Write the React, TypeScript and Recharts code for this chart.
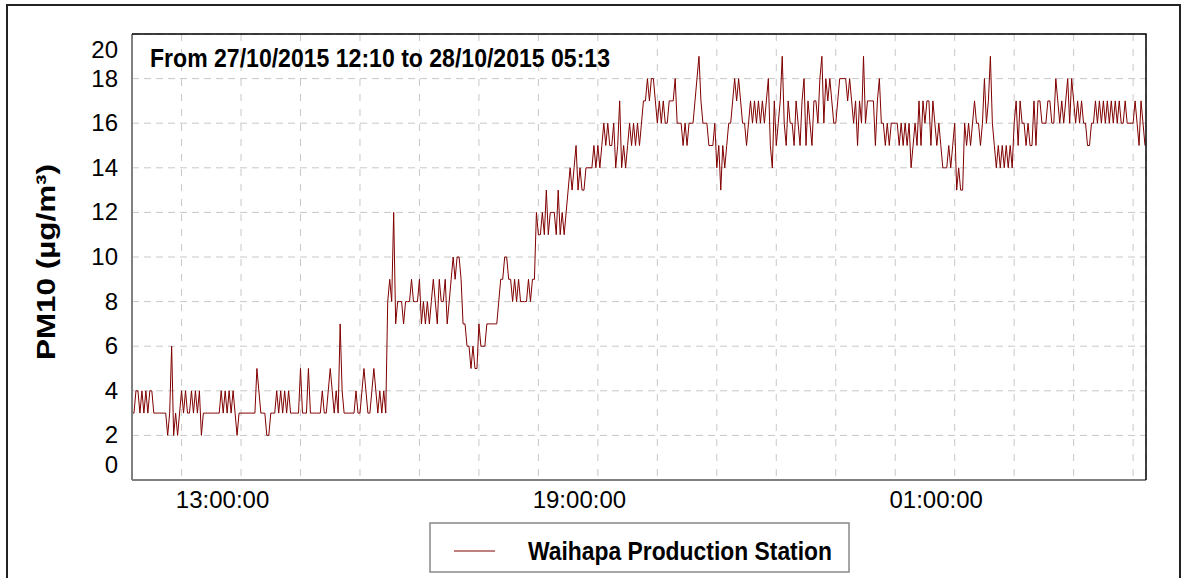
import { CartesianGrid, Line, LineChart, XAxis, YAxis } from "recharts";

const startLabel = "27/10/2015 12:10";
const endLabel = "28/10/2015 05:13";
const seriesName = "Waihapa Production Station";
const yAxisTitle = "PM10 (µg/m³)";

// one reading every 2 minutes, starting 27/10/2015 12:10
const sampleMinutes = 2;
const totalMinutes = 1023;

const pm10: number[] = [
	3, 3, 4, 4, 3, 4, 3, 4, 3, 4,
	4, 3, 3, 3, 3, 3, 3, 3, 2, 3,
	6, 2, 3, 2, 3, 4, 3, 4, 3, 3,
	4, 3, 4, 3, 4, 2, 3, 3, 3, 3,
	3, 3, 3, 3, 3, 4, 3, 4, 3, 4,
	3, 4, 3, 2, 3, 3, 3, 3, 3, 3,
	3, 3, 3, 5, 4, 3, 3, 3, 2, 2,
	3, 3, 3, 4, 3, 4, 3, 4, 3, 4,
	3, 3, 3, 3, 3, 5, 3, 3, 3, 5,
	3, 3, 3, 3, 3, 3, 4, 3, 3, 4,
	5, 4, 3, 4, 3, 7, 4, 3, 3, 3,
	3, 3, 3, 4, 3, 3, 4, 5, 4, 3,
	3, 4, 5, 4, 3, 4, 3, 4, 3, 8,
	9, 8, 12, 7, 8, 8, 8, 7, 8, 8,
	8, 9, 8, 8, 8, 9, 7, 8, 7, 8,
	7, 8, 9, 8, 7, 9, 8, 8, 9, 7,
	8, 9, 10, 9, 10, 10, 9, 7, 7, 6,
	6, 5, 6, 5, 5, 7, 6, 6, 6, 7,
	7, 7, 7, 7, 7, 8, 9, 9, 10, 10,
	9, 9, 8, 9, 8, 9, 8, 8, 8, 8,
	9, 8, 9, 9, 12, 11, 11, 12, 11, 13,
	11, 12, 12, 12, 11, 13, 11, 12, 11, 12,
	13, 14, 13, 14, 15, 13, 14, 13, 13, 14,
	14, 14, 14, 15, 14, 15, 14, 15, 16, 15,
	16, 15, 15, 16, 14, 15, 17, 14, 15, 14,
	15, 16, 15, 16, 15, 16, 15, 16, 17, 17,
	18, 17, 18, 18, 17, 16, 17, 16, 17, 16,
	16, 17, 17, 17, 18, 16, 16, 16, 15, 16,
	15, 16, 16, 16, 17, 18, 19, 17, 16, 16,
	16, 15, 15, 15, 16, 14, 15, 13, 15, 14,
	15, 16, 16, 17, 18, 17, 18, 17, 16, 16,
	15, 16, 17, 16, 17, 16, 17, 16, 17, 16,
	17, 18, 15, 14, 17, 15, 16, 17, 19, 16,
	15, 17, 16, 16, 15, 17, 16, 15, 17, 18,
	15, 17, 16, 15, 17, 17, 16, 18, 19, 16,
	18, 17, 18, 17, 16, 16, 17, 18, 18, 18,
	18, 17, 18, 17, 16, 17, 15, 17, 16, 19,
	16, 17, 17, 17, 17, 15, 17, 18, 16, 16,
	15, 16, 15, 16, 16, 16, 16, 15, 16, 15,
	16, 15, 16, 14, 15, 16, 15, 17, 15, 17,
	16, 17, 17, 15, 17, 16, 15, 16, 15, 14,
	14, 14, 15, 14, 15, 16, 13, 14, 13, 13,
	16, 15, 16, 15, 16, 17, 16, 16, 15, 16,
	18, 16, 17, 19, 16, 15, 14, 15, 14, 15,
	14, 15, 14, 15, 14, 16, 17, 15, 17, 16,
	16, 15, 16, 15, 15, 17, 15, 17, 17, 16,
	16, 16, 17, 17, 16, 16, 18, 17, 16, 17,
	16, 17, 18, 16, 18, 17, 16, 17, 16, 17,
	16, 16, 15, 15, 16, 16, 17, 16, 17, 16,
	17, 16, 17, 16, 17, 16, 17, 16, 17, 16,
	16, 17, 16, 16, 16, 16, 17, 16, 15, 17,
	16, 15,
];

const hourMinutes = [50, 110, 170, 230, 290, 350, 410, 470, 530, 590, 650, 710, 770, 830, 890, 950, 1010];
const hourLabels = [
	"13:00:00", "14:00:00", "15:00:00", "16:00:00", "17:00:00", "18:00:00",
	"19:00:00", "20:00:00", "21:00:00", "22:00:00", "23:00:00", "00:00:00",
	"01:00:00", "02:00:00", "03:00:00", "04:00:00", "05:00:00",
];
const shownHours = ["13:00:00", "19:00:00", "01:00:00"];
const yTicks = [0, 2, 4, 6, 8, 10, 12, 14, 16, 18, 20];

const data = pm10.map((value, i) => ({ minute: i * sampleMinutes, pm10: value }));

const font = '"Liberation Sans", Arial, sans-serif';
const title = `From ${startLabel} to ${endLabel}`;

function XTick(props: any) {
	const { x, payload } = props;
	const label = hourLabels[hourMinutes.indexOf(payload.value)];
	if (!shownHours.includes(label)) return <g />;
	return (
		<text x={x + 41} y={508} textAnchor="middle" fontSize={24} fontFamily={font} fill="#000">
			{label}
		</text>
	);
}

function YTick(props: any) {
	const { y, payload } = props;
	const v = payload.value;
	// the end labels are pulled inside the plot like the original
	const shift = v === 20 ? 16 : v === 0 ? -15 : 0;
	return (
		<text x={118} y={y + shift + 8} textAnchor="end" fontSize={24} fontFamily={font} fill="#000">
			{v}
		</text>
	);
}

export default function App() {
	return (
		<div style={{ position: "absolute", left: 0, top: 0, width: 1183, height: 578, overflow: "hidden", background: "#fff" }}>
			<div style={{ position: "absolute", left: 6, top: 4, width: 1171, height: 640, border: "2px solid #222" }} />
			<div style={{ position: "absolute", left: 0, top: 0 }}>
				<LineChart width={1183} height={578} data={data} margin={{ top: 34, right: 37, left: 0, bottom: 0 }}>
					<CartesianGrid vertical={false} stroke="#c8c8c8" strokeDasharray="7 5" />
					<CartesianGrid horizontal={false} stroke="#c8c8c8" strokeDasharray="7 8" />
					<XAxis
						type="number"
						dataKey="minute"
						domain={[0, totalMinutes]}
						ticks={hourMinutes}
						interval={0}
						height={98}
						tickLine={false}
						axisLine={{ stroke: "#808080", strokeWidth: 2 }}
						tick={XTick}
					/>
					<YAxis
						type="number"
						domain={[0, 20]}
						ticks={yTicks}
						interval={0}
						width={132}
						tickLine={false}
						axisLine={{ stroke: "#808080", strokeWidth: 2 }}
						tick={YTick}
					/>
					<Line type="linear" dataKey="pm10" stroke="#800000" strokeWidth={1} dot={false} isAnimationActive={false} />
				</LineChart>
			</div>
			<svg width={1183} height={578} style={{ position: "absolute", left: 0, top: 0, pointerEvents: "none" }} fontFamily={font}>
				<polyline points="132,34 1146,34 1146,480" fill="none" stroke="#000" strokeWidth={1.5} />
				<text x={150} y={67} fontSize={25} fontWeight="bold" fill="#000" textLength={460} lengthAdjust="spacingAndGlyphs">
					{title}
				</text>
				<text
					transform="translate(55,262) rotate(-90)"
					textAnchor="middle"
					fontSize={25}
					fontWeight="bold"
					fill="#000"
					textLength={196}
					lengthAdjust="spacingAndGlyphs"
				>
					{yAxisTitle}
				</text>
				<rect x={430} y={523} width={419} height={49} fill="#fff" stroke="#888" strokeWidth={1.5} />
				<line x1={454} y1={551} x2={495} y2={551} stroke="#800000" strokeWidth={1} />
				<text x={528} y={560} fontSize={26} fontWeight="bold" fill="#000" textLength={304} lengthAdjust="spacingAndGlyphs">
					{seriesName}
				</text>
			</svg>
		</div>
	);
}
